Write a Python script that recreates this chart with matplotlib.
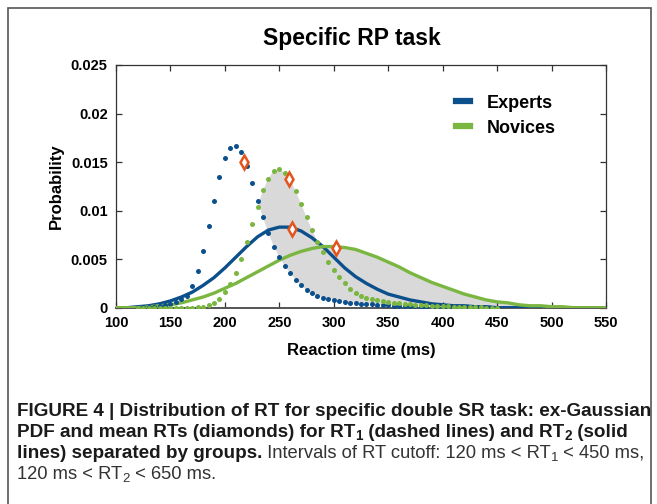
import numpy as np
import matplotlib
matplotlib.use("Agg")
import matplotlib.pyplot as plt
from matplotlib.lines import Line2D
from matplotlib.patches import Rectangle
from matplotlib import font_manager as fm

# Data
# RT1 (dotted), ex-Gaussian pdf sampled every 5 ms
rt1_ms = np.arange(120, 451, 5)
experts_rt1 = [0.0000, 0.0001, 0.0001, 0.0001, 0.0002, 0.0003, 0.0004, 0.0006,
               0.0009, 0.0012, 0.0022, 0.0038, 0.0058, 0.0084, 0.0110, 0.0135,
               0.0154, 0.0165, 0.0167, 0.0160, 0.0146, 0.0128, 0.0110, 0.0093,
               0.0077, 0.0063, 0.0052, 0.0043, 0.0036, 0.0029, 0.0023, 0.0018,
               0.0015, 0.0012, 0.0010, 0.0009, 0.0008, 0.0007, 0.0006, 0.0005,
               0.0005, 0.0004, 0.0004, 0.0004, 0.0003, 0.0003, 0.0003, 0.0002,
               0.0002, 0.0002, 0.0002, 0.0002, 0.0001, 0.0001, 0.0001, 0.0001,
               0.0001, 0.0001, 0.0001, 0.0001, 0.0001, 0.0000, 0.0000, 0.0000,
               0.0000, 0.0000, 0.0000]
novices_rt1 = [0.0000, 0.0000, 0.0000, 0.0000, 0.0000, 0.0000, 0.0000, 0.0000,
               0.0000, 0.0000, 0.0000, 0.0001, 0.0001, 0.0003, 0.0005, 0.0009,
               0.0016, 0.0024, 0.0036, 0.0050, 0.0068, 0.0086, 0.0104, 0.0121,
               0.0133, 0.0141, 0.0143, 0.0139, 0.0132, 0.0120, 0.0107, 0.0093,
               0.0080, 0.0068, 0.0057, 0.0047, 0.0039, 0.0032, 0.0025, 0.0019,
               0.0015, 0.0012, 0.0010, 0.0009, 0.0008, 0.0007, 0.0006, 0.0005,
               0.0005, 0.0004, 0.0004, 0.0003, 0.0003, 0.0003, 0.0002, 0.0002,
               0.0002, 0.0002, 0.0001, 0.0001, 0.0001, 0.0001, 0.0001, 0.0001,
               0.0000, 0.0000, 0.0000]

# RT2 (solid), sampled every 10 ms
rt2_ms = np.arange(100, 551, 10)
experts_rt2 = [0.0000, 0.0000, 0.0001, 0.0002, 0.0004, 0.0007, 0.0011, 0.0016,
               0.0023, 0.0031, 0.0041, 0.0052, 0.0063, 0.0073, 0.0080, 0.0083,
               0.0083, 0.0079, 0.0072, 0.0063, 0.0052, 0.0041, 0.0032, 0.0025,
               0.0019, 0.0014, 0.0011, 0.0008, 0.0006, 0.0004, 0.0003, 0.0002,
               0.0002, 0.0001, 0.0001, 0.0000, 0.0000, 0.0000, 0.0000, 0.0000,
               0.0000, 0.0000, 0.0000, 0.0000, 0.0000, 0.0000]
novices_rt2 = [0.0000, 0.0000, 0.0000, 0.0001, 0.0002, 0.0003, 0.0005, 0.0008,
               0.0011, 0.0015, 0.0020, 0.0025, 0.0031, 0.0037, 0.0043, 0.0049,
               0.0054, 0.0058, 0.0061, 0.0063, 0.0063, 0.0062, 0.0060, 0.0056,
               0.0052, 0.0047, 0.0042, 0.0036, 0.0031, 0.0026, 0.0022, 0.0018,
               0.0014, 0.0011, 0.0008, 0.0006, 0.0005, 0.0003, 0.0002, 0.0002,
               0.0001, 0.0001, 0.0000, 0.0000, 0.0000, 0.0000]

# mean RTs (diamonds)
mean_ms = [218, 259, 262, 302]
mean_p = [0.0150, 0.0133, 0.0081, 0.0062]

groups = ['Experts', 'Novices']
xticks = np.arange(100, 551, 50)
yticks = [0, 0.005, 0.01, 0.015, 0.02, 0.025]
ytick_labels = ['0', '0.005', '0.01', '0.015', '0.02', '0.025']

blue = '#0b4f8c'
green = '#7ab640'
orange = '#e5531c'

names = {f.name for f in fm.fontManager.ttflist}
plot_font = 'Liberation Sans' if 'Liberation Sans' in names else 'DejaVu Sans'
cap_font = 'Liberation Sans Narrow' if 'Liberation Sans Narrow' in names else plot_font
plt.rcParams['font.family'] = [plot_font, 'DejaVu Sans']

W, H = 657, 504
fig = plt.figure(figsize=(W / 100, H / 100), dpi=100)
ax = fig.add_axes([116 / W, 1 - 307.7 / H, 490 / W, 242.7 / H])

# grey area between expert RT1 and the upper novice curve
xf = np.union1d(rt1_ms, rt2_ms)
lo = np.interp(xf, rt1_ms, experts_rt1, left=0, right=0)
hi = np.maximum(np.interp(xf, rt1_ms, novices_rt1, left=0, right=0),
                np.interp(xf, rt2_ms, novices_rt2))
ax.fill_between(xf, lo, hi, where=hi > lo, interpolate=True,
                color='#d9d9d9', lw=0, zorder=1)

ax.plot(rt2_ms, experts_rt2, color=blue, lw=2.4, zorder=3, solid_joinstyle='round')
ax.plot(rt2_ms, novices_rt2, color=green, lw=2.4, zorder=3, solid_joinstyle='round')
ax.plot(rt1_ms, experts_rt1, 'o', color=blue, ms=3.6, mew=0, zorder=4)
ax.plot(rt1_ms, novices_rt1, 'o', color=green, ms=3.6, mew=0, zorder=4)
ax.plot(mean_ms, mean_p, 'd', ms=7, mfc='white', mec=orange, mew=1.8,
        linestyle='none', zorder=5)

ax.set_xlim(100, 550)
ax.set_ylim(0, 0.025)
ax.set_xticks(xticks)
ax.set_xticklabels([str(v) for v in xticks], fontsize=10.5, fontweight='bold')
ax.set_yticks(yticks)
ax.set_yticklabels(ytick_labels, fontsize=10.5, fontweight='bold')
ax.tick_params(direction='in', top=True, right=True, length=4, width=0.9,
               pad=6, color='#333333')
for s in ax.spines.values():
    s.set_linewidth(0.9)
    s.set_color('#333333')
ax.spines['bottom'].set_linewidth(1.4)
ax.spines['bottom'].set_color('#555555')

ax.set_xlabel('Reaction time (ms)', fontsize=12, fontweight='bold', labelpad=9)
ax.set_ylabel('Probability', fontsize=12, fontweight='bold', labelpad=5)
# title sits a little left of the axes centre in the original
fig.text(352 / W, 1 - 38 / H, 'Specific RP task', fontsize=16.5, fontweight='bold',
         ha='center', va='center')

handles = [Line2D([], [], color=blue, lw=4.5), Line2D([], [], color=green, lw=4.5)]
ax.legend(handles, groups, loc='upper left', bbox_to_anchor=(0.66, 0.945),
          frameon=False, handlelength=0.8, handletextpad=0.9, labelspacing=0.45,
          prop={'family': plot_font, 'weight': 'bold', 'size': 13})

# outer frame of the figure panel
fig.patches.append(Rectangle((8 / W, -0.05), 643 / W, 1 - 8 / H + 0.05,
                             transform=fig.transFigure, fill=False,
                             edgecolor='#555555', lw=1.2))

# caption, built from bold / regular runs
lines = [
    [("FIGURE 4 | Distribution of RT for specific double SR task: ex-Gaussian", 'bold', False)],
    [("PDF and mean RTs (diamonds) for RT", 'bold', False), ("1", 'bold', True),
     (" (dashed lines) and RT", 'bold', False), ("2", 'bold', True), (" (solid", 'bold', False)],
    [("lines) separated by groups.", 'bold', False),
     (" Intervals of RT cutoff: 120 ms < RT", 'normal', False), ("1", 'normal', True),
     (" < 450 ms,", 'normal', False)],
    [("120 ms < RT", 'normal', False), ("2", 'normal', True), (" < 650 ms.", 'normal', False)],
]
baselines = [416, 437, 458, 479]

renderer = fig.canvas.get_renderer()
probe = fig.text(0, 0, lines[0][0][0], fontsize=12, fontweight='bold',
                 family=[cap_font, 'DejaVu Sans'])
w0 = probe.get_window_extent(renderer).width
probe.remove()
cap_size = 12 * (628 / w0)

for runs, yb in zip(lines, baselines):
    x = 17
    for txt, wt, sub in runs:
        size = cap_size * (0.72 if sub else 1) * (0.98 if wt == 'normal' else 1)
        dy = 3 if sub else 0
        t = fig.text(x / W, 1 - (yb + dy) / H, txt, fontsize=size, fontweight=wt,
                     va='baseline', ha='left', color='#1a1a1a' if wt == 'bold' else '#333333',
                     family=[cap_font, 'DejaVu Sans'])
        x += t.get_window_extent(renderer).width

fig.savefig('out.png', dpi=100)
